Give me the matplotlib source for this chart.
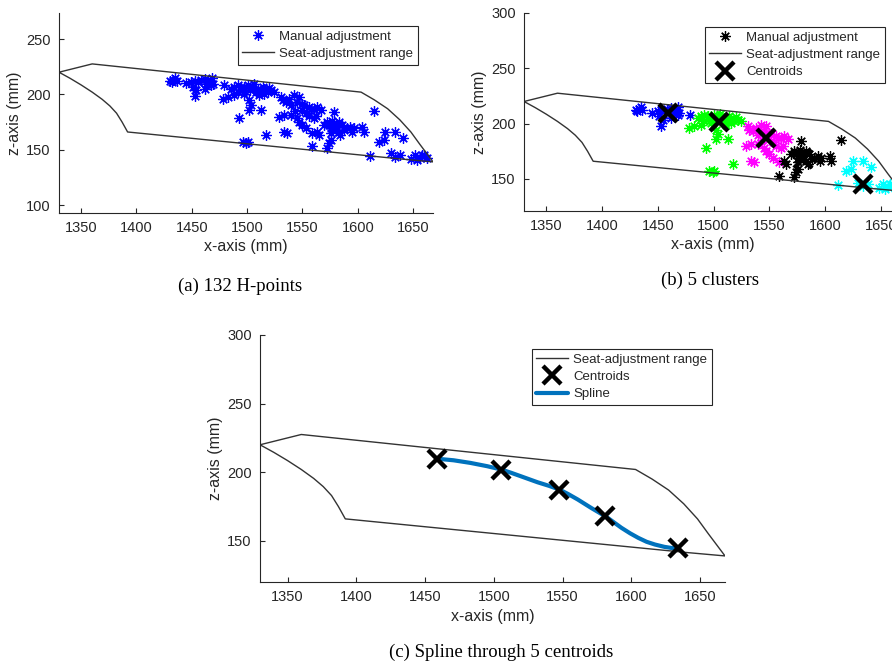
import matplotlib
matplotlib.use("Agg")
import matplotlib.pyplot as plt

plt.rcParams['font.family'] = ['Liberation Sans', 'DejaVu Sans']

# seat-adjustment range outline (x, z in mm)
seat_x = [1330, 1360, 1603, 1615, 1627, 1638, 1648, 1656, 1662, 1668,
          1640, 1392, 1387, 1382, 1376, 1369, 1360, 1350, 1340, 1330]
seat_z = [220, 227.5, 202, 195, 187, 177, 166, 155, 147, 139,
          141.5, 166, 175, 183, 189.5, 195.5, 202, 208.5, 214.5, 220]

# H-points by cluster
blue_x = [1430.2, 1433.2, 1434.7, 1436.2, 1431.7, 1449.7, 1452.7, 1455.7, 1461.7, 1464.7,
          1467.7, 1466.2, 1469.2, 1451.2, 1454.2, 1461.7, 1452.7, 1479.0, 1463, 1458, 1468, 1445]
blue_z = [211.9, 213.4, 214.6, 212.5, 211.0, 211.0, 212.5, 211.0, 214.0, 211.0,
          208.0, 212.5, 209.5, 206.5, 203.6, 205.1, 198.2, 208.0, 209, 213, 215, 210]

green_x = [1485.6, 1488.6, 1491.6, 1494.6, 1478.1, 1482.6, 1488.6, 1491.6, 1497.6, 1500.6,
           1505.1, 1509.6, 1512.6, 1515.6, 1518.6, 1521.6, 1524.6, 1502.1, 1503.6, 1502.1,
           1512.6, 1493.1, 1517.1, 1496.1, 1499.1, 1500.6, 1508.1, 1515.6, 1497.6, 1511.1,
           1506, 1514, 1520, 1503, 1497]
green_z = [205.1, 206.5, 208.0, 206.5, 196.1, 197.6, 199.1, 202.1, 206.5, 208.0,
           206.5, 205.1, 203.6, 204.5, 202.1, 203.6, 202.1, 194.6, 190.2, 185.7,
           185.7, 178.3, 163.4, 157.4, 156.0, 156.8, 202.1, 200.6, 200.6, 199.1,
           209, 207, 206, 204, 203]

magenta_x = [1530.5, 1532.0, 1535.0, 1538.0, 1542.5, 1547.0, 1550.0, 1551.5, 1556.0, 1557.5,
             1560.5, 1563.5, 1566.5, 1529.0, 1533.5, 1539.5, 1545.5, 1547.0, 1550.0, 1533.5,
             1536.5, 1560.5, 1559.0, 1553.0, 1540, 1545, 1553, 1556, 1543, 1550, 1562]
magenta_z = [197.6, 194.6, 193.2, 196.1, 199.1, 197.6, 191.7, 190.2, 188.7, 187.2,
             187.2, 188.7, 185.7, 179.8, 181.3, 181.3, 178.3, 175.3, 172.3, 166.4,
             164.9, 178.3, 164.9, 169.3, 190, 193, 183, 180, 185, 186, 180]

black_x = [1578.4, 1614.4, 1563.5, 1565.0, 1569.5, 1572.5, 1574.0, 1575.5, 1578.4, 1579.9,
           1582.9, 1584.4, 1585.9, 1590.4, 1593.4, 1596.4, 1603.9, 1605.4, 1559.0, 1572.5,
           1574.0, 1575.5, 1577, 1580, 1583, 1588, 1576, 1595]
black_z = [184.2, 184.8, 166.4, 163.4, 172.3, 175.3, 172.3, 169.3, 173.8, 167.9,
           166.4, 163.4, 172.3, 169.3, 170.8, 169.3, 170.8, 166.4, 153.0, 151.5,
           156.0, 158.9, 176, 171, 175, 168, 165, 166]

cyan_x = [1624.8, 1633.8, 1641.3, 1618.9, 1623.3, 1611.4, 1651.8, 1656.3, 1657.8, 1653.3,
          1629.7, 1634.1, 1638.6, 1662.5, 1660, 1648]
cyan_z = [166.4, 166.4, 160.4, 157.4, 158.9, 144.1, 145.5, 142.6, 145.5, 141.1,
          146.7, 143.7, 145.2, 142.2, 145, 142]

# cluster centroids
cent_x = [1459, 1505, 1547, 1580.5, 1634]
cent_z = [209.5, 201.5, 187, 168, 145]

# spline through the centroids
spline_x = [1460.2, 1470.7, 1482.9, 1495.1, 1505.6, 1512.5, 1519.5, 1531.7, 1540, 1547.6,
            1554, 1561.0, 1570.7, 1581.7, 1592.7, 1599, 1604.9, 1611, 1617.1, 1624, 1633.0]
spline_z = [209.7, 208.7, 206.8, 204.4, 201.9, 199.6, 197.1, 192.7, 190.1, 187.4,
            184.1, 180.1, 174.0, 167.5, 159.5, 155.5, 152.2, 149.3, 147.3, 145.6, 144.2]

clusters = [(blue_x, blue_z, (0, 0, 1)), (green_x, green_z, (0, 1, 0)),
            (magenta_x, magenta_z, (1, 0, 1)), (black_x, black_z, (0, 0, 0)),
            (cyan_x, cyan_z, (0, 1, 1))]

W, H = 892, 665
AX_COL = (0.15, 0.15, 0.15)
SEAT_COL = (0.2, 0.2, 0.2)
STAR = (8, 2, 0)

fig = plt.figure(figsize=(W / 100, H / 100), dpi=100)


def make_axes(left, top, right, bottom, ylim, yticks):
    ax = fig.add_axes([left / W, 1 - bottom / H, (right - left) / W, (bottom - top) / H])
    ax.set_xlim(1330, 1668)
    ax.set_ylim(*ylim)
    ax.set_xticks([1350, 1400, 1450, 1500, 1550, 1600, 1650])
    ax.set_yticks(yticks)
    for s in ['top', 'right']:
        ax.spines[s].set_visible(False)
    for s in ['left', 'bottom']:
        ax.spines[s].set_color(AX_COL)
        ax.spines[s].set_linewidth(0.8)
    ax.tick_params(direction='in', length=3.5, width=0.8, colors=AX_COL,
                   labelsize=10.5, labelcolor=AX_COL, pad=6)
    ax.set_xlabel('x-axis (mm)', fontsize=11.5, color=AX_COL, labelpad=3)
    ax.set_ylabel('z-axis (mm)', fontsize=11.5, color=AX_COL, labelpad=3)
    return ax


def add_legend(ax, gap_x, gap_y):
    bb = ax.get_position()
    wpx, hpx = bb.width * W, bb.height * H
    leg = ax.legend(loc='upper right', bbox_to_anchor=(1 - gap_x / wpx, 1 - gap_y / hpx),
                    borderaxespad=0, fancybox=False, framealpha=1, fontsize=9.5,
                    handlelength=2.4, handletextpad=0.4, labelspacing=0.38,
                    borderpad=0.35)
    leg.get_frame().set_edgecolor(AX_COL)
    leg.get_frame().set_linewidth(0.8)
    for t in leg.get_texts():
        t.set_color(AX_COL)


# (a) all H-points
ax_a = make_axes(59, 13, 433, 213, (92.8, 273.5), [100, 150, 200, 250])
all_x = blue_x + green_x + magenta_x + black_x + cyan_x
all_z = blue_z + green_z + magenta_z + black_z + cyan_z
ax_a.plot(all_x, all_z, linestyle='none', marker=STAR, ms=7.5, mew=0.9,
          color=(0, 0, 1), label='Manual adjustment')
ax_a.plot(seat_x, seat_z, color=SEAT_COL, lw=1, label='Seat-adjustment range')
add_legend(ax_a, 15, 13)

# (b) 5 clusters
ax_b = make_axes(524, 13, 901, 211, (121, 300), [150, 200, 250, 300])
for i, (cx, cz, col) in enumerate(clusters):
    ax_b.plot(cx, cz, linestyle='none', marker=STAR, ms=7.5, mew=0.9, color=col,
              label='Manual adjustment' if i == 3 else None)
ax_b.plot(seat_x, seat_z, color=SEAT_COL, lw=1, label='Seat-adjustment range')
ax_b.plot(cent_x, cent_z, linestyle='none', marker='x', ms=13, mew=3.2,
          color='black', label='Centroids')
add_legend(ax_b, 16, 14)

# (c) spline
ax_c = make_axes(260, 335, 725, 582, (120, 300), [150, 200, 250, 300])
ax_c.plot(seat_x, seat_z, color=SEAT_COL, lw=1, label='Seat-adjustment range')
ax_c.plot(cent_x, cent_z, linestyle='none', marker='x', ms=13, mew=3.2,
          color='black', label='Centroids', zorder=3)
ax_c.plot(spline_x, spline_z, color=(0, 0.447, 0.741), lw=3, label='Spline',
          solid_capstyle='round', solid_joinstyle='round', zorder=2)
add_legend(ax_c, 13, 14)

cap = dict(family=['Liberation Serif', 'DejaVu Serif'], fontsize=13.5,
           ha='center', va='center', color='black')
fig.text(240 / W, 1 - 286 / H, '(a) 132 H-points', **cap)
fig.text(710 / W, 1 - 280 / H, '(b) 5 clusters', **cap)
fig.text(501 / W, 1 - 652 / H, '(c) Spline through 5 centroids', **cap)

fig.savefig('out.png', dpi=100, facecolor='white')
